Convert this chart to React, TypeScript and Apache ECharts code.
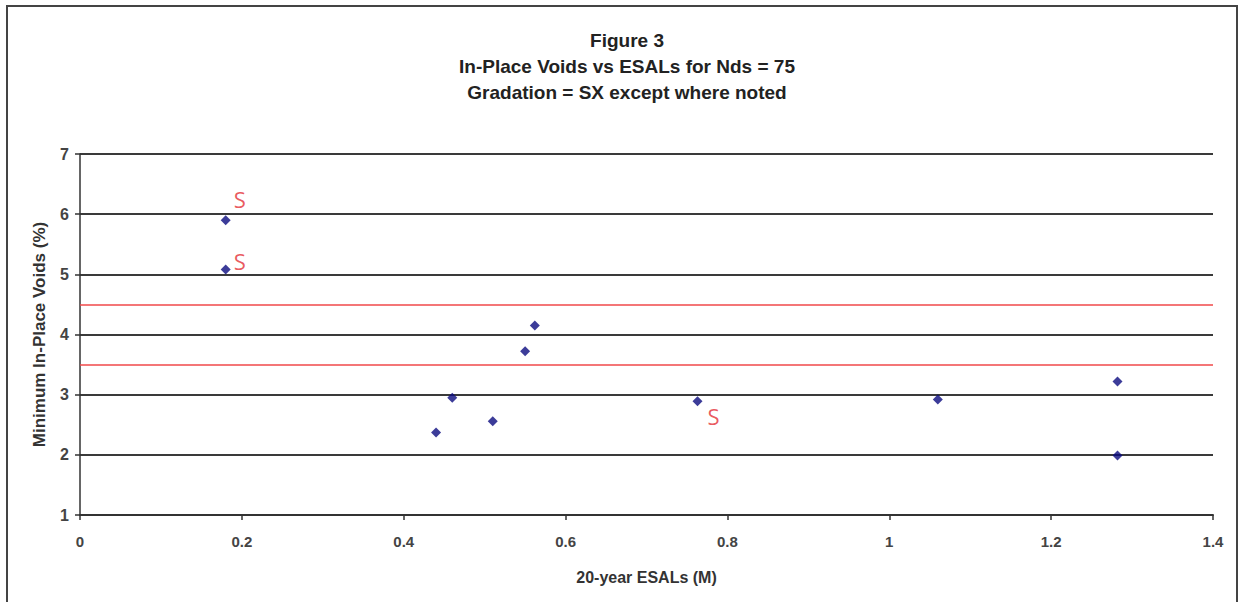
import React, { useEffect, useRef } from "react";
import * as echarts from "echarts";

const titleLines = ["Figure 3", "In-Place Voids vs ESALs for Nds = 75", "Gradation = SX except where noted"];
const xAxisName = "20-year ESALs (M)";
const yAxisName = "Minimum In-Place Voids (%)";

// SX gradation points [ESALs (M), voids %]
const sxPoints: [number, number][] = [
  [0.44, 2.37],
  [0.46, 2.95],
  [0.51, 2.56],
  [0.55, 3.72],
  [0.562, 4.15],
  [1.06, 2.92],
  [1.282, 3.22],
  [1.282, 1.99],
];

// points noted as S gradation
const sPoints: [number, number][] = [
  [0.18, 5.9],
  [0.18, 5.08],
  [0.763, 2.89],
];
const sLabel = "S";
const sLabelOffsets: [number, number][] = [
  [14, -21],
  [14, -9],
  [16, 15],
];

const limitLines = [3.5, 4.5];

export default function App() {
  const ref = useRef<HTMLDivElement>(null);
  useEffect(() => {
    if (!ref.current) return;
    const chart = echarts.init(ref.current, undefined, { renderer: "svg" });
    const font = "'Liberation Sans', Arial, sans-serif";
    const marker = { color: "#0b0b80" };
    chart.setOption({
      animation: false,
      backgroundColor: "#ffffff",
      title: {
        text: titleLines.join("\n"),
        left: 622,
        textAlign: "center",
        top: 22,
        textStyle: {
          fontFamily: font,
          fontSize: 19,
          fontWeight: "bold",
          color: "#222",
          lineHeight: 26,
        },
      },
      graphic: [
        {
          type: "rect",
          shape: { x: 7, y: 6, width: 1230, height: 620 },
          style: { fill: "none", stroke: "#444", lineWidth: 2 },
          silent: true,
        },
      ],
      grid: { left: 80, top: 154, right: 25, bottom: 87 },
      xAxis: {
        type: "value",
        min: 0,
        max: 1.4,
        interval: 0.2,
        name: xAxisName,
        nameLocation: "middle",
        nameGap: 54,
        nameTextStyle: { fontFamily: font, fontSize: 16, fontWeight: "bold", color: "#333" },
        axisLine: { show: true, onZero: false, lineStyle: { color: "#333", width: 2 } },
        axisTick: { show: true, inside: false, length: 5, lineStyle: { color: "#333", width: 1.5 } },
        axisLabel: {
          margin: 19,
          fontFamily: font,
          fontSize: 15,
          fontWeight: "bold",
          color: "#444",
          formatter: (v: number) => String(Math.round(v * 10) / 10),
        },
        splitLine: { show: false },
      },
      yAxis: {
        type: "value",
        min: 1,
        max: 7,
        interval: 1,
        name: yAxisName,
        nameLocation: "middle",
        nameGap: 32,
        nameTextStyle: { fontFamily: font, fontSize: 17, fontWeight: "bold", color: "#333" },
        axisLine: { show: true, lineStyle: { color: "#333", width: 1.5 } },
        axisTick: { show: true, inside: false, length: 5, lineStyle: { color: "#333", width: 1.5 } },
        axisLabel: {
          margin: 11,
          fontFamily: font,
          fontSize: 16,
          fontWeight: "bold",
          color: "#444",
        },
        splitLine: { show: true, lineStyle: { color: "#3a3a3a", width: 2 } },
      },
      series: [
        {
          type: "scatter",
          symbol: "diamond",
          symbolSize: 10,
          itemStyle: marker,
          data: sxPoints,
          markLine: {
            silent: true,
            symbol: ["none", "none"],
            label: { show: false },
            lineStyle: { color: "#f0484a", width: 1.5, type: "solid" },
            data: limitLines.map((y) => ({ yAxis: y })),
          },
        },
        {
          type: "scatter",
          symbol: "diamond",
          symbolSize: 10,
          itemStyle: marker,
          data: sPoints.map((p, i) => ({
            value: p,
            label: {
              show: true,
              formatter: sLabel,
              position: "inside",
              offset: sLabelOffsets[i],
              fontFamily: "'Open Sans', 'Liberation Sans', sans-serif",
              fontSize: 22,
              color: "#e42f36",
            },
          })),
        },
      ],
    });
    return () => chart.dispose();
  }, []);
  return (
    <div
      ref={ref}
      style={{ position: "fixed", left: 0, top: 0, width: 1238, height: 602 }}
    />
  );
}
